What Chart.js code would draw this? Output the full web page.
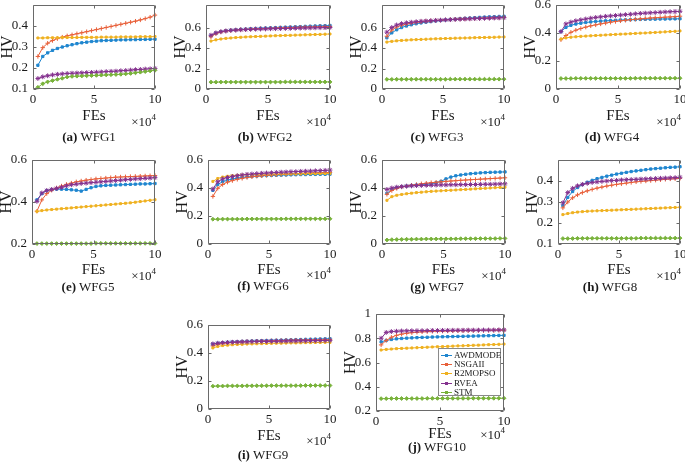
<!DOCTYPE html>
<html><head><meta charset="utf-8">
<script src="https://cdn.jsdelivr.net/npm/chart.js@4.4.1/dist/chart.umd.min.js"></script>
<style>
html,body{margin:0;padding:0;background:#fff;}
body{width:685px;height:462px;position:relative;overflow:hidden;font-family:"Liberation Serif","Times New Roman",serif;color:#1a1a1a;}
.cap{position:absolute;font-size:13px;white-space:nowrap;transform:translate(-50%,-50%);line-height:1;}
.exp{position:absolute;font-size:13px;white-space:nowrap;transform:translate(-100%,-50%);line-height:1;}
.exp sup{font-size:9px;vertical-align:0;position:relative;top:-6px;}
.lg{position:absolute;background:#fff;border:1px solid #8a8a8a;box-sizing:border-box;}
.lg .row{position:absolute;left:0;height:9px;font-size:9px;line-height:9px;white-space:nowrap;}
.lg .ln{position:absolute;left:2px;top:4px;width:11px;height:1px;}
.lg .mk{position:absolute;left:6px;top:3px;width:3px;height:3px;}
.lg .tx{position:absolute;left:15px;top:0;}
</style></head><body>
<div id="root"></div>
<script>
const FES = [4000,8000,12000,16000,20000,24000,28000,32000,36000,40000,44000,48000,52000,56000,60000,64000,68000,72000,76000,80000,84000,88000,92000,96000,100000];
const SERIES = ['AWDMODE','NSGAII','R2MOPSO','RVEA','STM'];
const X_TICKS = [0,50000,100000];

const WFG1_AWDMODE = [0.213,0.255,0.272,0.284,0.293,0.300,0.306,0.311,0.316,0.320,0.323,0.326,0.328,0.330,0.331,0.332,0.333,0.334,0.334,0.335,0.335,0.336,0.336,0.337,0.337];
const WFG1_NSGAII  = [0.255,0.297,0.318,0.331,0.340,0.347,0.353,0.358,0.363,0.368,0.373,0.378,0.383,0.388,0.393,0.398,0.403,0.408,0.413,0.418,0.423,0.429,0.435,0.442,0.452];
const WFG1_R2MOPSO = [0.343,0.343,0.344,0.344,0.344,0.345,0.345,0.345,0.345,0.346,0.346,0.346,0.346,0.347,0.347,0.347,0.347,0.348,0.348,0.348,0.348,0.349,0.349,0.349,0.350];
const WFG1_RVEA    = [0.150,0.158,0.163,0.167,0.170,0.172,0.174,0.175,0.176,0.177,0.178,0.179,0.180,0.181,0.183,0.184,0.185,0.187,0.188,0.190,0.192,0.193,0.195,0.196,0.198];
const WFG1_STM     = [0.108,0.125,0.134,0.140,0.146,0.151,0.157,0.160,0.161,0.162,0.163,0.164,0.165,0.166,0.167,0.168,0.169,0.170,0.172,0.174,0.177,0.180,0.183,0.186,0.189];

const WFG2_AWDMODE = [0.520,0.545,0.560,0.568,0.574,0.578,0.582,0.585,0.588,0.590,0.593,0.595,0.597,0.599,0.601,0.603,0.605,0.607,0.609,0.611,0.613,0.615,0.617,0.618,0.620];
const WFG2_NSGAII  = [0.510,0.540,0.556,0.565,0.571,0.575,0.579,0.582,0.585,0.587,0.589,0.591,0.593,0.595,0.597,0.598,0.600,0.601,0.603,0.604,0.605,0.607,0.608,0.609,0.610];
const WFG2_R2MOPSO = [0.468,0.480,0.488,0.494,0.498,0.502,0.505,0.508,0.510,0.512,0.514,0.516,0.518,0.520,0.521,0.523,0.524,0.526,0.527,0.529,0.530,0.532,0.533,0.535,0.537];
const WFG2_RVEA    = [0.525,0.548,0.560,0.567,0.572,0.575,0.578,0.580,0.582,0.584,0.585,0.586,0.588,0.589,0.590,0.591,0.592,0.593,0.594,0.595,0.596,0.597,0.598,0.599,0.600];
const WFG2_STM     = [0.067,0.067,0.068,0.068,0.068,0.068,0.068,0.068,0.068,0.068,0.068,0.068,0.068,0.068,0.068,0.069,0.069,0.069,0.069,0.069,0.069,0.069,0.069,0.069,0.069];

const WFG3_AWDMODE = [0.500,0.548,0.578,0.600,0.615,0.627,0.637,0.645,0.652,0.658,0.664,0.669,0.674,0.678,0.682,0.686,0.690,0.693,0.696,0.699,0.702,0.704,0.706,0.708,0.710];
const WFG3_NSGAII  = [0.515,0.575,0.605,0.622,0.634,0.643,0.650,0.656,0.661,0.665,0.669,0.672,0.675,0.678,0.681,0.683,0.685,0.687,0.689,0.691,0.693,0.694,0.696,0.697,0.699];
const WFG3_R2MOPSO = [0.458,0.465,0.470,0.474,0.477,0.480,0.482,0.484,0.486,0.488,0.490,0.491,0.493,0.494,0.496,0.497,0.498,0.499,0.501,0.502,0.503,0.504,0.505,0.507,0.508];
const WFG3_RVEA    = [0.555,0.600,0.625,0.638,0.646,0.652,0.657,0.661,0.664,0.667,0.670,0.672,0.675,0.677,0.679,0.681,0.683,0.685,0.687,0.688,0.690,0.691,0.693,0.694,0.696];
const WFG3_STM     = [0.094,0.094,0.095,0.095,0.095,0.095,0.095,0.095,0.095,0.095,0.095,0.095,0.095,0.096,0.096,0.096,0.096,0.096,0.096,0.096,0.096,0.096,0.096,0.096,0.096];

const WFG4_AWDMODE = [0.410,0.440,0.455,0.464,0.470,0.475,0.479,0.482,0.485,0.487,0.489,0.491,0.493,0.494,0.495,0.496,0.497,0.498,0.499,0.499,0.500,0.500,0.501,0.501,0.502];
const WFG4_NSGAII  = [0.352,0.382,0.405,0.420,0.432,0.442,0.451,0.458,0.465,0.471,0.477,0.482,0.487,0.491,0.495,0.498,0.501,0.504,0.507,0.509,0.511,0.513,0.515,0.517,0.520];
const WFG4_R2MOPSO = [0.357,0.365,0.370,0.373,0.376,0.378,0.380,0.382,0.384,0.386,0.388,0.390,0.392,0.393,0.395,0.397,0.399,0.400,0.402,0.404,0.406,0.408,0.410,0.412,0.415];
const WFG4_RVEA    = [0.410,0.465,0.478,0.487,0.494,0.500,0.506,0.511,0.515,0.519,0.522,0.525,0.528,0.531,0.534,0.537,0.540,0.542,0.544,0.546,0.548,0.550,0.552,0.553,0.555];
const WFG4_STM     = [0.075,0.075,0.075,0.076,0.076,0.076,0.076,0.076,0.076,0.076,0.076,0.076,0.076,0.076,0.076,0.077,0.077,0.077,0.077,0.077,0.077,0.077,0.077,0.077,0.077];

const WFG5_AWDMODE = [0.410,0.440,0.454,0.459,0.461,0.461,0.460,0.458,0.456,0.452,0.460,0.468,0.474,0.477,0.479,0.480,0.481,0.482,0.483,0.484,0.485,0.486,0.486,0.487,0.488];
const WFG5_NSGAII  = [0.356,0.410,0.440,0.456,0.467,0.476,0.484,0.490,0.496,0.500,0.504,0.507,0.510,0.512,0.514,0.516,0.518,0.519,0.520,0.521,0.522,0.523,0.524,0.525,0.526];
const WFG5_R2MOPSO = [0.355,0.359,0.362,0.364,0.366,0.368,0.370,0.372,0.374,0.376,0.378,0.380,0.382,0.384,0.386,0.388,0.390,0.392,0.394,0.396,0.399,0.402,0.405,0.408,0.411];
const WFG5_RVEA    = [0.403,0.443,0.455,0.460,0.465,0.470,0.477,0.482,0.485,0.488,0.490,0.492,0.494,0.496,0.498,0.500,0.502,0.504,0.506,0.508,0.510,0.511,0.513,0.514,0.516];
const WFG5_STM     = [0.202,0.202,0.202,0.202,0.202,0.202,0.202,0.202,0.202,0.202,0.202,0.202,0.203,0.203,0.203,0.203,0.203,0.203,0.203,0.203,0.203,0.203,0.203,0.203,0.203];

const WFG6_AWDMODE = [0.383,0.425,0.445,0.456,0.464,0.470,0.475,0.479,0.482,0.485,0.487,0.489,0.490,0.491,0.492,0.493,0.494,0.495,0.496,0.496,0.497,0.497,0.498,0.498,0.499];
const WFG6_NSGAII  = [0.340,0.398,0.425,0.442,0.453,0.462,0.469,0.475,0.480,0.484,0.487,0.490,0.493,0.495,0.497,0.499,0.501,0.503,0.504,0.506,0.507,0.508,0.509,0.510,0.511];
const WFG6_R2MOPSO = [0.447,0.468,0.478,0.484,0.488,0.491,0.493,0.495,0.496,0.497,0.498,0.499,0.500,0.500,0.501,0.501,0.502,0.502,0.502,0.503,0.503,0.503,0.504,0.504,0.504];
const WFG6_RVEA    = [0.393,0.445,0.465,0.475,0.482,0.488,0.493,0.497,0.500,0.503,0.505,0.507,0.509,0.511,0.513,0.514,0.516,0.517,0.519,0.520,0.521,0.523,0.524,0.526,0.528];
const WFG6_STM     = [0.177,0.177,0.178,0.178,0.178,0.178,0.178,0.179,0.179,0.179,0.179,0.179,0.179,0.179,0.179,0.180,0.180,0.180,0.180,0.180,0.180,0.180,0.180,0.180,0.180];

const WFG7_AWDMODE = [0.362,0.390,0.403,0.410,0.414,0.418,0.421,0.424,0.427,0.430,0.438,0.448,0.465,0.478,0.487,0.493,0.498,0.502,0.505,0.508,0.510,0.512,0.513,0.514,0.515];
const WFG7_NSGAII  = [0.355,0.382,0.397,0.407,0.414,0.420,0.425,0.430,0.434,0.438,0.441,0.444,0.447,0.450,0.452,0.455,0.457,0.459,0.461,0.463,0.465,0.467,0.469,0.471,0.473];
const WFG7_R2MOPSO = [0.312,0.338,0.348,0.354,0.359,0.363,0.367,0.370,0.373,0.376,0.378,0.380,0.382,0.384,0.386,0.388,0.390,0.392,0.394,0.396,0.398,0.400,0.402,0.404,0.406];
const WFG7_RVEA    = [0.390,0.400,0.406,0.410,0.413,0.415,0.417,0.418,0.419,0.420,0.421,0.422,0.422,0.423,0.423,0.424,0.424,0.425,0.425,0.426,0.427,0.427,0.428,0.429,0.430];
const WFG7_STM     = [0.029,0.031,0.032,0.033,0.034,0.034,0.035,0.035,0.036,0.036,0.036,0.037,0.037,0.037,0.037,0.038,0.038,0.038,0.038,0.039,0.039,0.039,0.039,0.040,0.040];

const WFG8_AWDMODE = [0.283,0.322,0.350,0.369,0.383,0.394,0.403,0.411,0.417,0.423,0.428,0.433,0.437,0.441,0.445,0.448,0.451,0.454,0.457,0.459,0.461,0.463,0.465,0.466,0.468];
const WFG8_NSGAII  = [0.272,0.300,0.320,0.334,0.345,0.353,0.360,0.366,0.371,0.376,0.380,0.384,0.387,0.390,0.393,0.396,0.398,0.400,0.402,0.404,0.406,0.408,0.410,0.411,0.413];
const WFG8_R2MOPSO = [0.240,0.245,0.249,0.252,0.254,0.256,0.257,0.258,0.259,0.260,0.261,0.262,0.263,0.264,0.265,0.266,0.267,0.268,0.269,0.270,0.271,0.272,0.273,0.274,0.275];
const WFG8_RVEA    = [0.296,0.345,0.365,0.377,0.384,0.389,0.393,0.396,0.398,0.400,0.402,0.403,0.405,0.406,0.407,0.408,0.409,0.410,0.411,0.412,0.413,0.414,0.415,0.416,0.418];
const WFG8_STM     = [0.126,0.126,0.126,0.127,0.127,0.127,0.127,0.127,0.127,0.127,0.127,0.127,0.127,0.127,0.127,0.127,0.128,0.128,0.128,0.128,0.128,0.128,0.128,0.128,0.128];

const WFG9_AWDMODE = [0.463,0.470,0.474,0.477,0.479,0.481,0.483,0.484,0.486,0.487,0.488,0.489,0.490,0.491,0.492,0.493,0.494,0.495,0.496,0.497,0.498,0.499,0.500,0.501,0.502];
const WFG9_NSGAII  = [0.450,0.462,0.468,0.472,0.475,0.477,0.479,0.481,0.482,0.484,0.485,0.486,0.487,0.488,0.489,0.490,0.491,0.492,0.492,0.493,0.494,0.494,0.495,0.495,0.496];
const WFG9_R2MOPSO = [0.436,0.447,0.453,0.456,0.459,0.461,0.462,0.464,0.465,0.466,0.467,0.468,0.469,0.470,0.470,0.471,0.472,0.472,0.473,0.474,0.474,0.475,0.475,0.476,0.476];
const WFG9_RVEA    = [0.465,0.470,0.473,0.475,0.477,0.478,0.479,0.480,0.481,0.482,0.483,0.483,0.484,0.484,0.485,0.485,0.486,0.486,0.487,0.487,0.488,0.488,0.489,0.489,0.490];
const WFG9_STM     = [0.163,0.164,0.164,0.165,0.165,0.165,0.165,0.166,0.166,0.166,0.166,0.166,0.167,0.167,0.167,0.167,0.167,0.167,0.167,0.168,0.168,0.168,0.168,0.168,0.168];

const WFG10_AWDMODE = [0.770,0.782,0.790,0.795,0.798,0.801,0.803,0.805,0.807,0.808,0.810,0.811,0.812,0.813,0.814,0.815,0.816,0.817,0.818,0.819,0.820,0.821,0.822,0.823,0.824];
const WFG10_NSGAII  = [0.745,0.782,0.808,0.824,0.834,0.841,0.846,0.850,0.853,0.855,0.857,0.858,0.859,0.860,0.861,0.862,0.862,0.863,0.863,0.864,0.864,0.865,0.865,0.866,0.866];
const WFG10_R2MOPSO = [0.703,0.708,0.711,0.714,0.716,0.718,0.720,0.722,0.724,0.726,0.728,0.730,0.731,0.733,0.735,0.737,0.738,0.740,0.742,0.743,0.745,0.747,0.748,0.750,0.752];
const WFG10_RVEA    = [0.800,0.848,0.855,0.858,0.860,0.861,0.862,0.862,0.863,0.863,0.864,0.864,0.865,0.865,0.866,0.866,0.866,0.867,0.867,0.867,0.868,0.868,0.868,0.869,0.869];
const WFG10_STM     = [0.302,0.302,0.303,0.303,0.303,0.303,0.303,0.303,0.303,0.304,0.304,0.304,0.304,0.304,0.304,0.304,0.304,0.304,0.305,0.305,0.305,0.305,0.305,0.305,0.305];

const Y_TICKS_A = [0.1,0.2,0.3,0.4];
const Y_TICKS_B = [0,0.2,0.4,0.6];
const Y_TICKS_E = [0.2,0.4,0.6];
const Y_TICKS_J = [0.2,0.4,0.6,0.8,1];

const FONT = '"Liberation Serif", "Times New Roman", serif';
const COLORS = ['#1f86cf','#e8603a','#efb120','#85328f','#78b23a'];
const MARKERS = ['rect','cross','rect','star','rectRot'];
const RADII = [1.6,2.2,1.4,2.4,1.9];

const PANELS = [
  {name:'WFG1', letter:'a', series:[WFG1_AWDMODE,WFG1_NSGAII,WFG1_R2MOPSO,WFG1_RVEA,WFG1_STM], box:[33,5,155,89], yr:[0.1,0.5], yt:Y_TICKS_A, cap:[89,136], exp:[156,121], fp:0},
  {name:'WFG2', letter:'b', series:[WFG2_AWDMODE,WFG2_NSGAII,WFG2_R2MOPSO,WFG2_RVEA,WFG2_STM], box:[206,5,330,89], yr:[0,0.82], yt:Y_TICKS_B, cap:[265,136], exp:[331,121], fp:0},
  {name:'WFG3', letter:'c', series:[WFG3_AWDMODE,WFG3_NSGAII,WFG3_R2MOPSO,WFG3_RVEA,WFG3_STM], box:[382,5,504,89], yr:[0,0.82], yt:Y_TICKS_B, cap:[437,136], exp:[505,121], fp:0},
  {name:'WFG4', letter:'d', series:[WFG4_AWDMODE,WFG4_NSGAII,WFG4_R2MOPSO,WFG4_RVEA,WFG4_STM], box:[556,5,680,89], yr:[0,0.6], yt:Y_TICKS_B, cap:[612,136], exp:[681,121], fp:0},
  {name:'WFG5', letter:'e', series:[WFG5_AWDMODE,WFG5_NSGAII,WFG5_R2MOPSO,WFG5_RVEA,WFG5_STM], box:[32,160,155,244], yr:[0.2,0.6], yt:Y_TICKS_E, cap:[88,286], exp:[156,275], fp:1},
  {name:'WFG6', letter:'f', series:[WFG6_AWDMODE,WFG6_NSGAII,WFG6_R2MOPSO,WFG6_RVEA,WFG6_STM], box:[208,160,330,244], yr:[0,0.6], yt:Y_TICKS_B, cap:[263,285], exp:[331,274], fp:1},
  {name:'WFG7', letter:'g', series:[WFG7_AWDMODE,WFG7_NSGAII,WFG7_R2MOPSO,WFG7_RVEA,WFG7_STM], box:[382,160,505,244], yr:[0,0.6], yt:Y_TICKS_B, cap:[437,286], exp:[506,275], fp:1},
  {name:'WFG8', letter:'h', series:[WFG8_AWDMODE,WFG8_NSGAII,WFG8_R2MOPSO,WFG8_RVEA,WFG8_STM], box:[558,160,680,244], yr:[0.1,0.5], yt:Y_TICKS_A, cap:[610,286], exp:[681,275], fp:1},
  {name:'WFG9', letter:'i', series:[WFG9_AWDMODE,WFG9_NSGAII,WFG9_R2MOPSO,WFG9_RVEA,WFG9_STM], box:[208,325,330,409], yr:[0,0.6], yt:Y_TICKS_B, cap:[263,454], exp:[331,440], fp:0},
  {name:'WFG10', letter:'j', series:[WFG10_AWDMODE,WFG10_NSGAII,WFG10_R2MOPSO,WFG10_RVEA,WFG10_STM], box:[376,314,504,411], yr:[0.2,1], yt:Y_TICKS_J, cap:[437,446], exp:[505,434], fp:4}
];

const boxPlugin = {
  id:'mbox',
  afterDraw(chart){
    const {ctx, chartArea:a, scales:{x,y}} = chart;
    const l = Math.round(a.left)+0.5, t = Math.round(a.top)+0.5, r = Math.round(a.right)-0.5, b = Math.round(a.bottom)-0.5;
    ctx.save();
    ctx.strokeStyle = '#6a6a6a'; ctx.lineWidth = 1;
    ctx.beginPath();
    ctx.rect(l, t, r-l, b-t);
    x.ticks.forEach(tk => { const px = Math.round(x.getPixelForValue(tk.value))+0.5; ctx.moveTo(px,b); ctx.lineTo(px,b-3); ctx.moveTo(px,t); ctx.lineTo(px,t+3); });
    y.ticks.forEach(tk => { const py = Math.round(y.getPixelForValue(tk.value))+0.5; ctx.moveTo(l,py); ctx.lineTo(l+3,py); ctx.moveTo(r,py); ctx.lineTo(r-3,py); });
    ctx.stroke();
    ctx.restore();
  }
};

const root = document.getElementById('root');
const YW = 40, XH = 36, PT = 8, PR = 8;

PANELS.forEach(p => {
  const [L,T,R,B] = p.box;
  const w = (R-L) + YW + PR, h = (B-T) + PT + XH;
  const cv = document.createElement('canvas');
  cv.width = w; cv.height = h;
  cv.style.cssText = `position:absolute;left:${L-YW}px;top:${T-PT}px;width:${w}px;height:${h}px;`;
  root.appendChild(cv);
  new Chart(cv, {
    type:'line',
    data:{ datasets: SERIES.map((s,k) => ({
      label:s,
      data: FES.map((fx,i) => ({x:fx, y:p.series[k][i]})),
      borderColor:COLORS[k], backgroundColor:COLORS[k], borderWidth:1,
      pointStyle:MARKERS[k], pointRadius:RADII[k], pointBorderWidth:1, pointHoverRadius:RADII[k],
      tension:0, clip:false, order:4-k
    }))},
    options:{
      responsive:false, animation:false, devicePixelRatio:1, events:[],
      layout:{padding:{top:PT,right:PR,left:0,bottom:0}},
      plugins:{legend:{display:false}, tooltip:{enabled:false}},
      scales:{
        x:{
          type:'linear', min:0, max:100000,
          grid:{display:false, drawTicks:false}, border:{display:false},
          afterBuildTicks: s => { s.ticks = X_TICKS.map(v => ({value:v})); },
          afterFit: s => { s.height = XH; s.paddingLeft = 0; s.paddingRight = 0; s.paddingTop = 0; s.paddingBottom = 0; },
          ticks:{font:{family:FONT,size:13}, color:'#1a1a1a', padding:3, maxRotation:0, autoSkip:false, callback: v => String(v/10000)},
          title:{display:true, text:'FEs', font:{family:FONT,size:15}, color:'#1a1a1a', padding:{top:0,bottom:p.fp}}
        },
        y:{
          type:'linear', min:p.yr[0], max:p.yr[1],
          grid:{display:false, drawTicks:false}, border:{display:false},
          afterBuildTicks: s => { s.ticks = p.yt.map(v => ({value:v})); },
          afterFit: s => { s.width = YW; s.paddingLeft = 0; s.paddingRight = 0; s.paddingTop = 0; s.paddingBottom = 0; },
          ticks:{font:{family:FONT,size:13}, color:'#1a1a1a', padding:5, autoSkip:false, callback: v => String(+Number(v).toFixed(2))},
          title:{display:true, text:'HV', font:{family:FONT,size:16}, color:'#1a1a1a', padding:{top:5,bottom:0}}
        }
      }
    },
    plugins:[boxPlugin]
  });

  const ex = document.createElement('div');
  ex.className = 'exp';
  ex.style.left = p.exp[0] + 'px'; ex.style.top = p.exp[1] + 'px';
  ex.innerHTML = '&times;10<sup>4</sup>';
  root.appendChild(ex);

  const cp = document.createElement('div');
  cp.className = 'cap';
  cp.style.left = p.cap[0] + 'px'; cp.style.top = p.cap[1] + 'px';
  cp.innerHTML = '<b>(' + p.letter + ')</b> ' + p.name;
  root.appendChild(cp);
});

// legend inside WFG10 panel
const lg = document.createElement('div');
lg.className = 'lg';
lg.style.cssText = 'left:438px;top:348px;width:63px;height:48px;';
SERIES.forEach((s,k) => {
  const row = document.createElement('div');
  row.className = 'row';
  row.style.top = (2 + k*9.2) + 'px';
  row.innerHTML = `<span class="ln" style="background:${COLORS[k]}"></span><span class="mk" style="background:${COLORS[k]}"></span><span class="tx">${s}</span>`;
  lg.appendChild(row);
});
root.appendChild(lg);
</script>
</body></html>
